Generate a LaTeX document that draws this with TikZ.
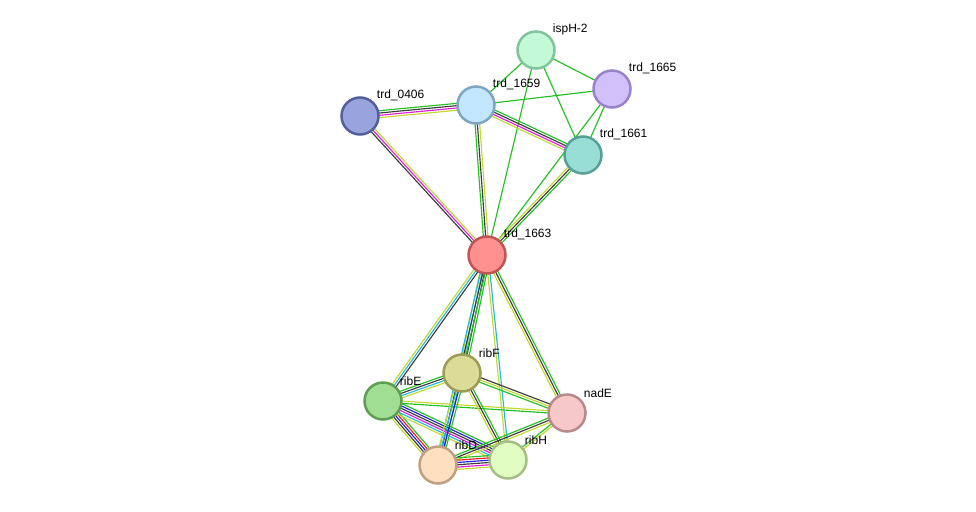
\documentclass[tikz,border=0pt]{standalone}
\usepackage{fontspec}
\setmainfont{Liberation Sans}
\usepackage{tikz}
\usetikzlibrary{calc, backgrounds}
\definecolor{ev-green}{HTML}{22C022}
\definecolor{ev-black}{HTML}{3C3C3C}
\definecolor{ev-magenta}{HTML}{E01EE0}
\definecolor{ev-yellow}{HTML}{C2D82E}
\definecolor{ev-cyan}{HTML}{22B8E0}
\definecolor{ev-blue}{HTML}{2020E0}
\definecolor{ev-red}{HTML}{F02020}
\tikzset{string-line/.style={line width=1.15pt}}
\tikzset{string-node/.style={circle, draw, line width=2.5pt, inner sep=0, minimum size=37pt}}
\tikzset{string-label/.style={font=\fontsize{12pt}{14pt}\selectfont, inner sep=1pt, label distance=2.5pt, yshift=-2pt}}
% parallel evidence lines between two proteins
\newcommand{\strlink}[3]{%
  \foreach \c [count=\i] in {#3} {\xdef\nlinks{\i}}%
  \foreach \c [count=\i] in {#3} {%
    \pgfmathsetmacro{\off}{(\i-(\nlinks+1)/2)*2.3}%
    \draw[string-line, \c] ($(#1)!\off pt!90:(#2)$) -- ($(#2)!\off pt!-90:(#1)$);
  }}

\begin{document}
\begin{tikzpicture}[x=1pt, y=-1pt]
            \useasboundingbox (0,0) rectangle (976,511);

            \node[string-node, draw={rgb,255:red,127;green,196;blue,154}, fill={rgb,255:red,196;green,249;blue,215}, label={[string-label]45:ispH-2}] (isph2) at (536,50) {};
            \node[string-node, draw={rgb,255:red,152;green,130;blue,200}, fill={rgb,255:red,210;green,192;blue,250}, label={[string-label]45:trd\_1665}] (trd1665) at (612,89) {};
            \node[string-node, draw={rgb,255:red,84;green,96;blue,154}, fill={rgb,255:red,153;green,163;blue,221}, label={[string-label]45:trd\_0406}] (trd0406) at (360,116) {};
            \node[string-node, draw={rgb,255:red,127;green,166;blue,192}, fill={rgb,255:red,194;green,230;blue,251}, label={[string-label]45:trd\_1659}] (trd1659) at (476,105) {};
            \node[string-node, draw={rgb,255:red,86;green,160;blue,151}, fill={rgb,255:red,153;green,222;blue,212}, label={[string-label]45:trd\_1661}] (trd1661) at (583,155) {};
            \node[string-node, draw={rgb,255:red,192;green,85;blue,85}, fill={rgb,255:red,255;green,144;blue,144}, label={[string-label]45:trd\_1663}] (trd1663) at (487,255) {};

            \node[string-node, draw={rgb,255:red,158;green,155;blue,86}, fill={rgb,255:red,220;green,219;blue,152}, label={[string-label]45:ribF}] (ribF) at (462,373) {};
            \node[string-node, draw={rgb,255:red,94;green,158;blue,84}, fill={rgb,255:red,160;green,222;blue,148}, label={[string-label]45:ribE}] (ribE) at (383,401) {};
            \node[string-node, draw={rgb,255:red,184;green,138;blue,138}, fill={rgb,255:red,246;green,200;blue,200}, label={[string-label]45:nadE}] (nadE) at (567,413) {};
            \node[string-node, draw={rgb,255:red,191;green,160;blue,128}, fill={rgb,255:red,253;green,224;blue,192}, label={[string-label]45:ribD}] (ribD) at (438,465) {};
            \node[string-node, draw={rgb,255:red,164;green,190;blue,134}, fill={rgb,255:red,226;green,253;blue,194}, label={[string-label]45:ribH}] (ribH) at (508,460) {};

            \begin{scope}[on background layer]
            \strlink{isph2}{trd1665}{ev-green}
            \strlink{isph2}{trd1659}{ev-green}
            \strlink{isph2}{trd1661}{ev-green}
            \strlink{isph2}{trd1663}{ev-green}
            \strlink{trd1665}{trd1659}{ev-green}
            \strlink{trd1665}{trd1661}{ev-green}
            \strlink{trd1665}{trd1663}{ev-green}

            \strlink{trd0406}{trd1659}{ev-yellow, ev-magenta, ev-black, ev-green}
            \strlink{trd0406}{trd1663}{ev-black, ev-magenta, ev-yellow}
            \strlink{trd1659}{trd1661}{ev-yellow, ev-magenta, ev-black, ev-green}
            \strlink{trd1659}{trd1663}{ev-green, ev-black, ev-yellow}
            \strlink{trd1661}{trd1663}{ev-yellow, ev-black, ev-green}

            \strlink{trd1663}{ribE}{ev-yellow, ev-cyan, ev-black}
            \strlink{trd1663}{ribF}{ev-yellow, ev-cyan, ev-black, ev-green}
            \strlink{trd1663}{ribD}{ev-cyan, ev-black, ev-green}
            \strlink{trd1663}{ribH}{ev-yellow, ev-cyan}
            \strlink{trd1663}{nadE}{ev-yellow, ev-black, ev-green}

            \strlink{ribE}{ribF}{ev-yellow, ev-cyan, ev-black, ev-green}
            \strlink{ribE}{nadE}{ev-green, ev-yellow}
            \strlink{ribE}{ribD}{ev-yellow, ev-black, ev-blue, ev-red, ev-green}
            \strlink{ribE}{ribH}{ev-yellow, ev-cyan, ev-magenta, ev-black, ev-blue, ev-green}
            \strlink{ribF}{nadE}{ev-green, ev-yellow, ev-black}
            \strlink{ribF}{ribD}{ev-yellow, ev-cyan, ev-blue, ev-green}
            \strlink{ribF}{ribH}{ev-yellow, ev-black, ev-green}
            \strlink{nadE}{ribD}{ev-green, ev-black, ev-yellow}
            \strlink{nadE}{ribH}{ev-green, ev-yellow}
            \strlink{ribD}{ribH}{ev-yellow, ev-magenta, ev-black, ev-blue, ev-red, ev-green}
            \end{scope}
\end{tikzpicture}
\end{document}
